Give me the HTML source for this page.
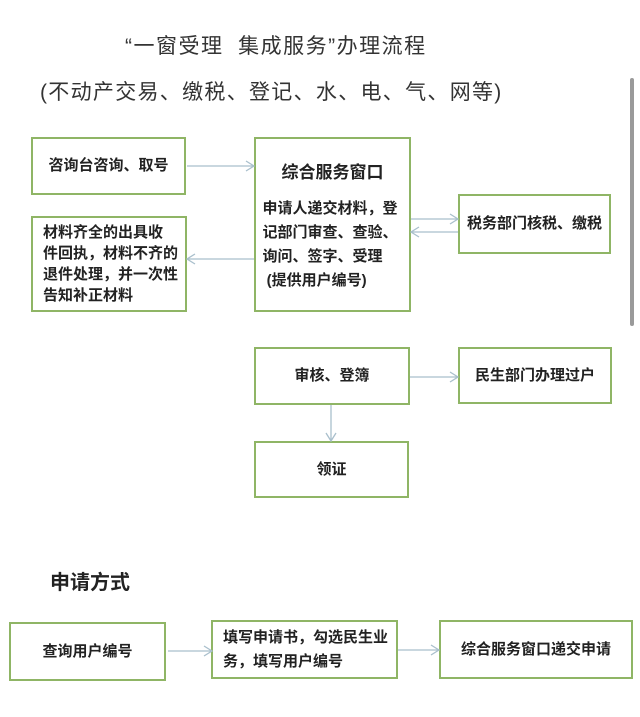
<!DOCTYPE html>
<html><head><meta charset="utf-8"><style>
body{margin:0;width:640px;height:717px;background:#fff;position:relative;overflow:hidden;font-family:"Liberation Sans","Noto Sans CJK SC",sans-serif;color:#222}
.b{position:absolute;border:2px solid #8fb565;box-sizing:border-box;display:flex;align-items:center;justify-content:center;font-size:15px;font-weight:bold;line-height:24px}
.t{position:absolute;white-space:nowrap}
svg{position:absolute;left:0;top:0}
</style></head><body>
<div class="t" style="left:125px;top:30px;font-size:21px;color:#333;letter-spacing:1.5px">“一窗受理&nbsp;&nbsp;集成服务”办理流程</div>
<div class="t" style="left:40px;top:76px;font-size:21px;color:#333;letter-spacing:1.3px">(不动产交易、缴税、登记、水、电、气、网等)</div>
<div style="position:absolute;left:630px;top:78px;width:4px;height:248px;background:#9a9a9a;border-radius:2px"></div>

<div class="b" style="left:31px;top:137px;width:155px;height:58px">咨询台咨询、取号</div>
<div class="b" style="left:254px;top:137px;width:157px;height:175px;flex-direction:column;justify-content:flex-start;padding-top:22px">
<div style="font-size:17px;margin-bottom:12px">综合服务窗口</div>
<div style="text-align:left;width:140px">申请人递交材料，登记部门审查、查验、询问、签字、受理<br>&nbsp;(提供用户编号)</div></div>
<div class="b" style="left:31px;top:216px;width:156px;height:96px;justify-content:flex-start;padding-left:10px;line-height:21px"><div>材料齐全的出具收<br>件回执，材料不齐的<br>退件处理，并一次性<br>告知补正材料</div></div>
<div class="b" style="left:458px;top:194px;width:153px;height:60px">税务部门核税、缴税</div>
<div class="b" style="left:254px;top:347px;width:156px;height:58px">审核、登簿</div>
<div class="b" style="left:458px;top:347px;width:154px;height:57px">民生部门办理过户</div>
<div class="b" style="left:254px;top:441px;width:155px;height:57px">领证</div>

<div class="t" style="left:50px;top:566px;font-size:20px;font-weight:bold">申请方式</div>
<div class="b" style="left:9px;top:622px;width:157px;height:59px">查询用户编号</div>
<div class="b" style="left:211px;top:620px;width:187px;height:59px;justify-content:flex-start;padding-left:10px"><div>填写申请书，勾选民生业<br>务，填写用户编号</div></div>
<div class="b" style="left:439px;top:620px;width:194px;height:59px">综合服务窗口递交申请</div>

<svg width="640" height="717" fill="none" stroke="#a9bfcc" stroke-width="1.3">
<path d="M187 166H254M246 161l8 5-8 5"/>
<path d="M254 259H187M195 254l-8 5 8 5"/>
<path d="M411 219H458M450 214l8 5-8 5"/>
<path d="M458 232H411M419 227l-8 5 8 5"/>
<path d="M410 377H458M450 372l8 5-8 5"/>
<path d="M331 405V441M326 433l5 8 5-8"/>
<path d="M168 651H212M204 646l8 5-8 5"/>
<path d="M398 650H439M431 645l8 5-8 5"/>
</svg>
</body></html>
